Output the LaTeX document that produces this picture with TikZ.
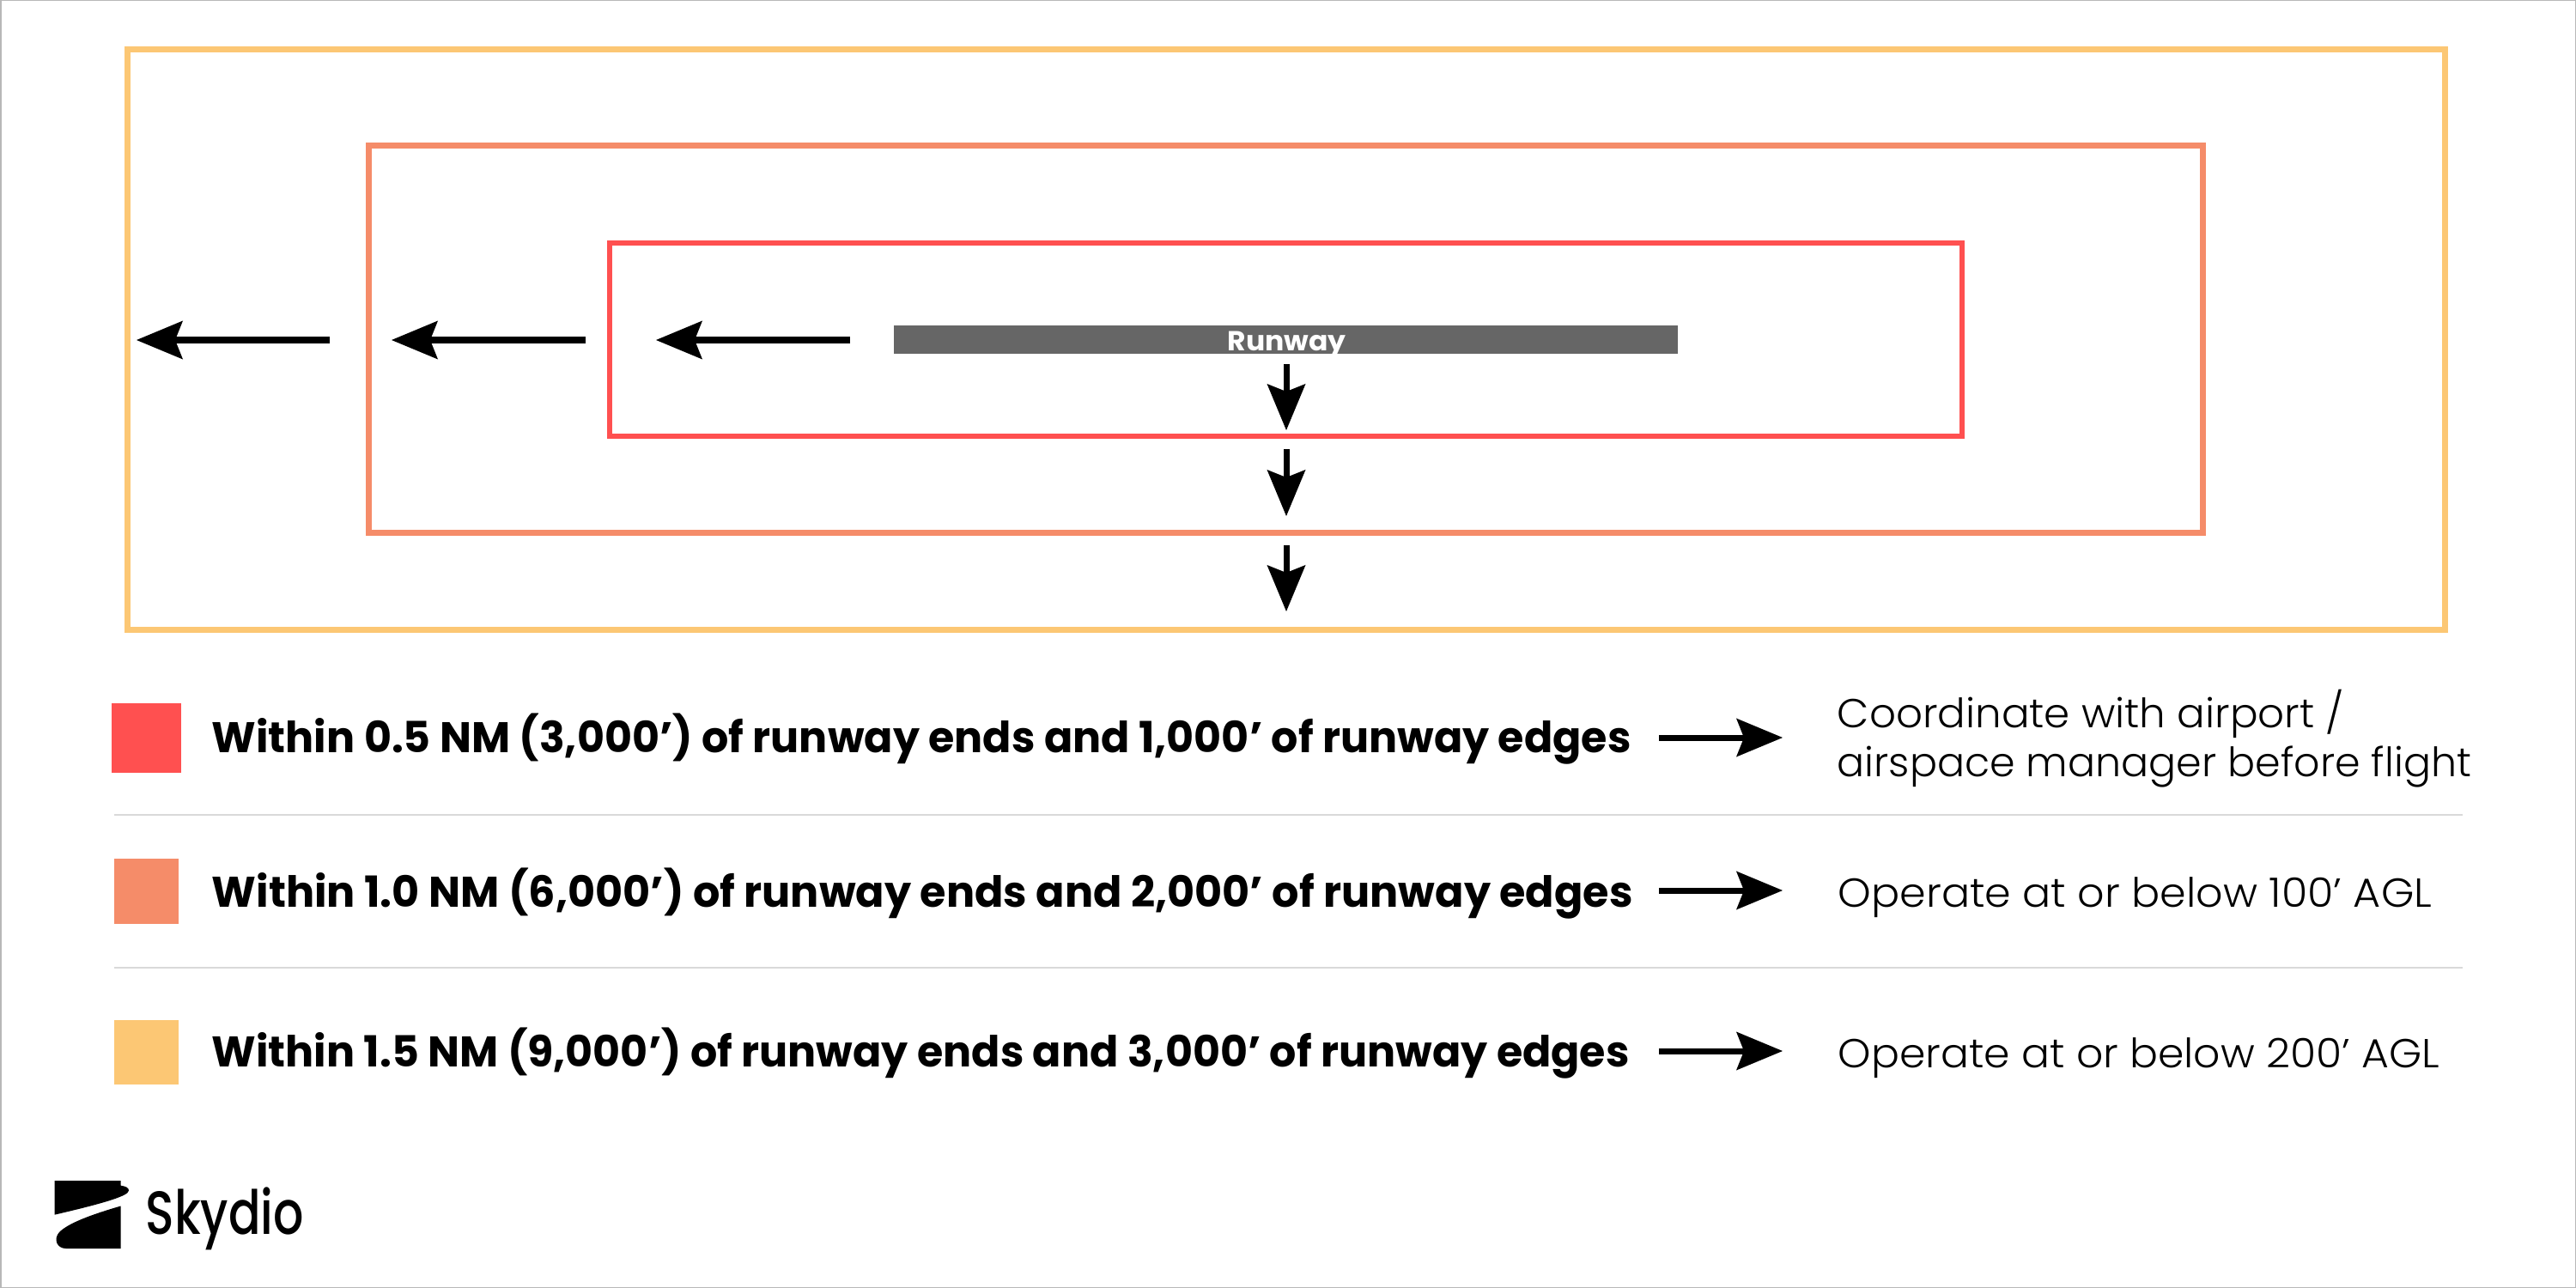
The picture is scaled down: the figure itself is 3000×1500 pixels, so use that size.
\documentclass[tikz,border=0pt]{standalone}
\usepackage{fontspec}
\usepackage{graphicx}
\usetikzlibrary{arrows.meta}
\setmainfont{Poppins}[UprightFont=*-Light,BoldFont=*-Bold]
\newfontfamily\logofont{Poppins}[UprightFont=*-Medium]
\newfontfamily\semifont{Poppins}[UprightFont=*-Bold]
\definecolor{zonered}{HTML}{FF5050}
\definecolor{zoneorange}{HTML}{F58C69}
\definecolor{zoneyellow}{HTML}{FCC774}
\definecolor{runwaygray}{HTML}{666666}
\definecolor{rulegray}{HTML}{D9D9D9}
\definecolor{framegray}{HTML}{B8B8B8}
\newcommand{\fitw}[2]{\resizebox{#1}{\height}{#2}}
\tikzset{
  x=0.01cm,y=-0.01cm,
  zone/.style={rectangle,draw=#1,line width=0.068cm,fill=none,inner sep=0pt},
  swatch/.style={rectangle,fill=#1,draw=none,inner sep=0pt},
  ruleline/.style={draw=rulegray,line width=0.025cm},
  flow/.style={draw=black,line width=0.07cm,-{Stealth[length=0.54cm,width=0.45cm,inset=0.09cm,line width=0pt]}},
  legendtext/.style={anchor=base west,inner sep=0pt,font=\fontsize{14.2}{17}\selectfont\bfseries,text=black},
  actiontext/.style={anchor=base west,inner sep=0pt,font=\fontsize{13.4}{16}\selectfont,text=black},
}
\begin{document}
\begin{tikzpicture}
\useasboundingbox (0,0) rectangle (3000,1500);
\fill[white] (0,0) rectangle (3000,1500);
\draw[framegray,line width=0.03cm] (0,0) rectangle (3000,1500);
% zones
\node[zone=zoneyellow,minimum width=26.98cm,minimum height=6.75cm] (zoneC) at (1498,395.5) {};
\node[zone=zoneorange,minimum width=21.35cm,minimum height=4.50cm] (zoneB) at (1497.5,395) {};
\node[zone=zonered,minimum width=15.74cm,minimum height=2.25cm] (zoneA) at (1497.5,395.5) {};
% runway
\node[rectangle,fill=runwaygray,inner sep=0pt,minimum width=9.12cm,minimum height=0.33cm] (runway) at (1497.5,395.5) {};
\node[anchor=base west,inner sep=0pt,text=white,font=\fontsize{9.1}{11}\selectfont\semifont] (runwaylabel) at (1429,408) {\fitw{1.38cm}{Runway}};
% left arrows
\coordinate (l1s) at (990,396); \coordinate (l1e) at (764,396);
\coordinate (l2s) at (682,396); \coordinate (l2e) at (456,396);
\coordinate (l3s) at (384,396); \coordinate (l3e) at (159,396);
\draw[flow] (l1s) -- (l1e);
\draw[flow] (l2s) -- (l2e);
\draw[flow] (l3s) -- (l3e);
% down arrows
\coordinate (d1s) at (1498,424); \coordinate (d1e) at (1498,501);
\coordinate (d2s) at (1498,523); \coordinate (d2e) at (1498,601);
\coordinate (d3s) at (1498,635); \coordinate (d3e) at (1498,712);
\draw[flow] (d1s) -- (d1e);
\draw[flow] (d2s) -- (d2e);
\draw[flow] (d3s) -- (d3e);
% legend swatches
\node[swatch=zonered,minimum width=0.81cm,minimum height=0.81cm] (swA) at (170.5,859.5) {};
\node[swatch=zoneorange,minimum width=0.75cm,minimum height=0.76cm] (swB) at (170.5,1038) {};
\node[swatch=zoneyellow,minimum width=0.75cm,minimum height=0.75cm] (swC) at (170.5,1225.5) {};
% rules
\coordinate (r1a) at (133,949); \coordinate (r1b) at (2868,949);
\coordinate (r2a) at (133,1127); \coordinate (r2b) at (2868,1127);
\draw[ruleline] (r1a) -- (r1b);
\draw[ruleline] (r2a) -- (r2b);
% legend text
\node[legendtext] (txA) at (246,876) {\fitw{16.52cm}{Within 0.5 NM (3,000’) of runway ends and 1,000’ of runway edges}};
\node[legendtext] (txB) at (246,1056) {\fitw{16.54cm}{Within 1.0 NM (6,000’) of runway ends and 2,000’ of runway edges}};
\node[legendtext] (txC) at (246,1242) {\fitw{16.50cm}{Within 1.5 NM (9,000’) of runway ends and 3,000’ of runway edges}};
% right arrows
\coordinate (a1s) at (1932,859); \coordinate (a1e) at (2076,859);
\coordinate (a2s) at (1932,1037); \coordinate (a2e) at (2076,1037);
\coordinate (a3s) at (1932,1224); \coordinate (a3e) at (2076,1224);
\draw[flow] (a1s) -- (a1e);
\draw[flow] (a2s) -- (a2e);
\draw[flow] (a3s) -- (a3e);
% action text
\node[actiontext] (acA1) at (2139,847) {\fitw{5.90cm}{Coordinate with airport /}};
\node[actiontext] (acA2) at (2139,904) {\fitw{7.38cm}{airspace manager before flight}};
\node[actiontext] (acB) at (2140,1056) {\fitw{6.91cm}{Operate at or below 100’ AGL}};
\node[actiontext] (acC) at (2140,1243) {\fitw{7.00cm}{Operate at or below 200’ AGL}};
% logo
\fill[black] (63.5,1375) -- (140.7,1375) -- (140.7,1380.7)
  .. controls (146,1381.5) and (150,1383) .. (150,1386.5)
  .. controls (150,1393) and (118,1402) .. (63.5,1414.7) -- cycle;
\fill[black] (140.7,1404.5) -- (140.7,1454) -- (77,1454)
  .. controls (66,1454) and (62,1443) .. (69,1435)
  .. controls (80,1424) and (108,1414) .. (140.7,1404.5) -- cycle;
\node[anchor=base west,inner sep=0pt,font=\fontsize{20.2}{24}\selectfont\logofont] (logotext) at (169,1437) {\fitw{1.84cm}{Skydio}};
\end{tikzpicture}
\end{document}
